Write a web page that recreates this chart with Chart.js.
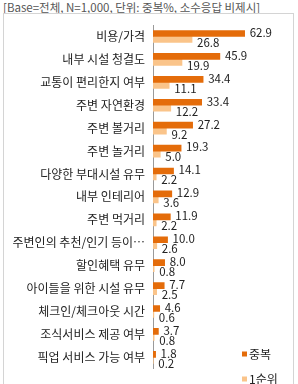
<!DOCTYPE html>
<html>
<head>
<meta charset="utf-8">
<script src="https://cdn.jsdelivr.net/npm/chart.js@4/dist/chart.umd.min.js"></script>
<style>
  html, body { margin: 0; padding: 0; background: #fff; }
  #wrap { position: relative; width: 298px; height: 384px; overflow: hidden; }
  #note { position: absolute; left: 3px; top: -1px; font: 11.5px "Noto Sans CJK KR", sans-serif; color: #555; white-space: nowrap; }
  #box { position: absolute; left: 3px; top: 13px; width: 291px; height: 380px; border: 1px solid #d4d4d4; box-sizing: border-box; }
  canvas { position: absolute; left: 0; top: 0; }
</style>
</head>
<body>
<div id="wrap">
  <div id="note">[Base=전체, N=1,000, 단위: 중복%, 소수응답 비제시]</div>
  <div id="box"></div>
  <canvas id="chart" width="298" height="384"></canvas>
</div>
<script>
const categories = [
  '비용/가격', '내부 시설 청결도', '교통이 편리한지 여부', '주변 자연환경',
  '주변 볼거리', '주변 놀거리', '다양한 부대시설 유무', '내부 인테리어',
  '주변 먹거리', '주변인의 추천/인기 등이…', '할인혜택 유무', '아이들을 위한 시설 유무',
  '체크인/체크아웃 시간', '조식서비스 제공 여부', '픽업 서비스 가능 여부'
];
const multiValues = [62.9, 45.9, 34.4, 33.4, 27.2, 19.3, 14.1, 12.9, 11.9, 10.0, 8.0, 7.7, 4.6, 3.7, 1.8];
const firstValues = [26.8, 19.9, 11.1, 12.2, 9.2, 5.0, 2.2, 3.6, 2.2, 2.6, 0.8, 2.5, 0.6, 0.8, 0.2];
const seriesNames = ['중복', '1순위'];

const FONT = '"Noto Sans CJK KR", "Noto Sans", sans-serif';

// value labels next to the bar ends
const valueLabels = {
  id: 'valueLabels',
  afterDatasetsDraw(chart) {
    const ctx = chart.ctx;
    ctx.save();
    ctx.font = '11.5px ' + FONT;
    ctx.fillStyle = '#222';
    ctx.textBaseline = 'middle';
    ctx.textAlign = 'left';
    chart.data.datasets.forEach((ds, i) => {
      const meta = chart.getDatasetMeta(i);
      meta.data.forEach((bar, j) => {
        const dy = i === 0 ? -1 : 3;
        ctx.fillText(ds.data[j].toFixed(1), bar.x + 5, bar.y + dy);
      });
    });
    ctx.restore();
  }
};

// small vertical legend at the bottom right
const cornerLegend = {
  id: 'cornerLegend',
  afterDraw(chart) {
    const ctx = chart.ctx;
    ctx.save();
    ctx.font = '12px ' + FONT;
    ctx.textBaseline = 'middle';
    chart.data.datasets.forEach((ds, i) => {
      const y = 354 + i * 25;
      ctx.fillStyle = ds.backgroundColor;
      ctx.fillRect(242, y - 2.5, 5, 5);
      ctx.fillStyle = '#222';
      ctx.fillText(ds.label, 249, y);
    });
    ctx.restore();
  }
};

new Chart(document.getElementById('chart'), {
  type: 'bar',
  data: {
    labels: categories,
    datasets: [
      { label: seriesNames[0], data: multiValues, backgroundColor: '#E46C0A', barThickness: 6 },
      { label: seriesNames[1], data: firstValues, backgroundColor: '#FAC48A', barThickness: 6 }
    ]
  },
  options: {
    indexAxis: 'y',
    responsive: false,
    animation: false,
    layout: { padding: { top: 25, right: 43, bottom: 1, left: 0 } },
    plugins: { legend: { display: false }, tooltip: { enabled: false } },
    scales: {
      x: { min: 0, max: 70, display: false },
      y: {
        grid: { display: false, drawTicks: false },
        border: { display: true, color: '#9a9a9a' },
        ticks: { color: '#222', font: { family: FONT, size: 12 }, padding: 8, autoSkip: false },
        afterFit(scale) { scale.width = 153; }
      }
    }
  },
  plugins: [valueLabels, cornerLegend]
});
</script>
</body>
</html>
